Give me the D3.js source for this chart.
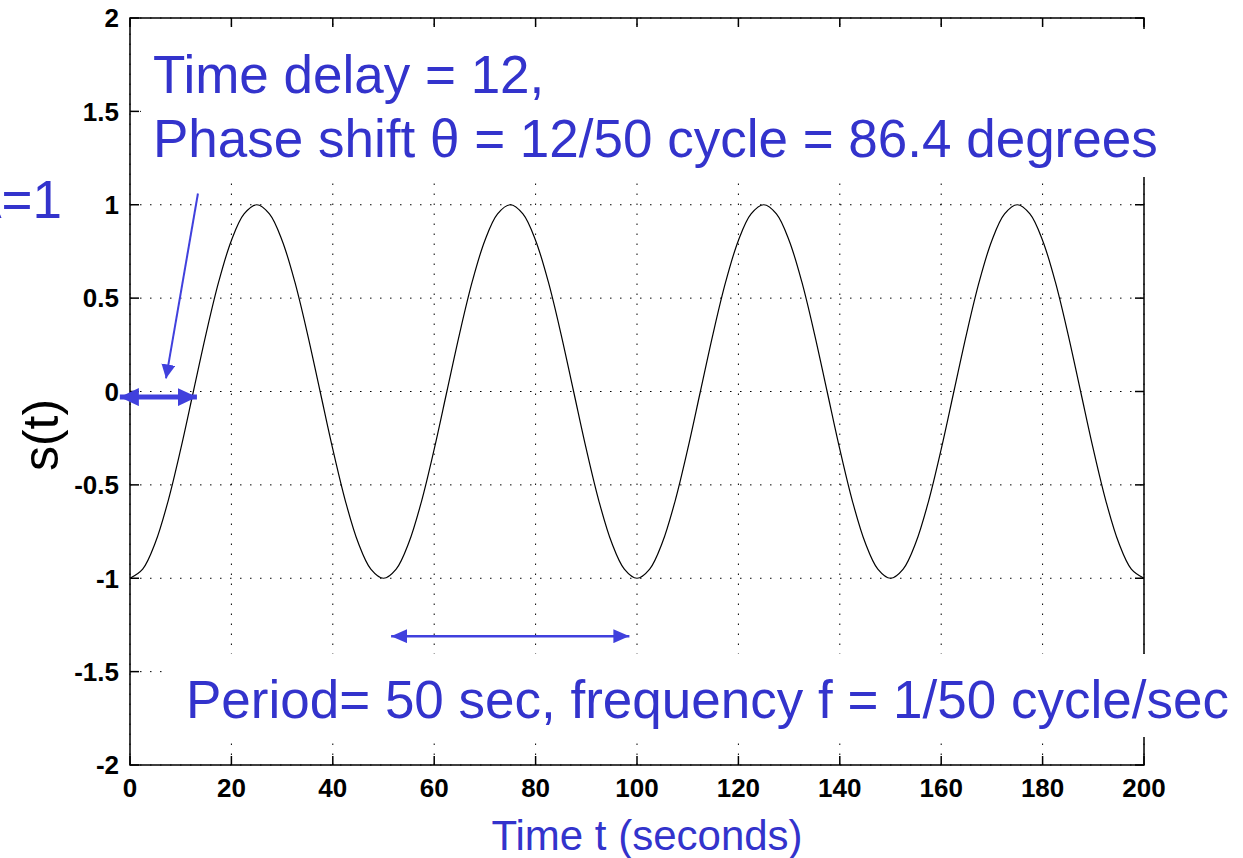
<!DOCTYPE html>
<html>
<head>
<meta charset="utf-8">
<script src="https://d3js.org/d3.v7.min.js"></script>
<style>
  body { margin: 0; background: #fff; }
  svg { display: block; }
  .tick-label { font-family: "Liberation Sans", Arial, sans-serif; font-weight: bold; font-size: 26px; fill: #000; }
  .note { font-family: "Liberation Sans", Arial, sans-serif; fill: #3333cc; }
</style>
</head>
<body>
<div id="chart"></div>
<script>
// sample times (seconds) and the signal
var times = d3.range(0, 200.1, 2.5);
var signal = [
  -1, -0.951, -0.809, -0.588, -0.309, 0, 0.309, 0.588, 0.809, 0.951,
  1, 0.951, 0.809, 0.588, 0.309, 0, -0.309, -0.588, -0.809, -0.951,
  -1, -0.951, -0.809, -0.588, -0.309, 0, 0.309, 0.588, 0.809, 0.951,
  1, 0.951, 0.809, 0.588, 0.309, 0, -0.309, -0.588, -0.809, -0.951,
  -1, -0.951, -0.809, -0.588, -0.309, 0, 0.309, 0.588, 0.809, 0.951,
  1, 0.951, 0.809, 0.588, 0.309, 0, -0.309, -0.588, -0.809, -0.951,
  -1, -0.951, -0.809, -0.588, -0.309, 0, 0.309, 0.588, 0.809, 0.951,
  1, 0.951, 0.809, 0.588, 0.309, 0, -0.309, -0.588, -0.809, -0.951,
  -1
];
var xTicks = [0, 20, 40, 60, 80, 100, 120, 140, 160, 180, 200];
var yTicks = [2, 1.5, 1, 0.5, 0, -0.5, -1, -1.5, -2];
var yTickLabels = ['2', '1.5', '1', '0.5', '0', '-0.5', '-1', '-1.5', '-2'];

// annotation arrows in data units: [x1, y1, x2, y2]
var delayPointer = [13.4, 1.06, 7.1, 0.07];
var delaySpan = [-2, -0.03, 13.2, -0.03];
var periodSpan = [51.5, -1.31, 98.5, -1.31];

var W = 1243, H = 858;
var x = d3.scaleLinear().domain([0, 200]).range([130, 1144]);
var y = d3.scaleLinear().domain([-2, 2]).range([765, 18]);

var svg = d3.select('#chart').append('svg')
  .attr('width', W)
  .attr('height', H);

var defs = svg.append('defs');
function marker(id, len, half) {
  defs.append('marker')
    .attr('id', id)
    .attr('viewBox', '0 0 ' + len + ' ' + (half * 2))
    .attr('refX', len)
    .attr('refY', half)
    .attr('markerWidth', len)
    .attr('markerHeight', half * 2)
    .attr('markerUnits', 'userSpaceOnUse')
    .attr('orient', 'auto-start-reverse')
    .append('path')
    .attr('d', 'M0,0L' + len + ',' + half + 'L0,' + (half * 2) + 'Z')
    .attr('fill', '#4040dd');
}
marker('head-small', 14, 7);
marker('head-big', 19, 9);
marker('head-mid', 16, 7);

// dotted grid
var grid = svg.append('g').attr('stroke', '#000').attr('stroke-width', 1)
  .attr('stroke-dasharray', '1.5,8.5').attr('fill', 'none');
xTicks.forEach(function(t) {
  grid.append('line').attr('x1', x(t)).attr('x2', x(t)).attr('y1', y(-2)).attr('y2', y(2));
});
yTicks.forEach(function(v) {
  grid.append('line').attr('x1', x(0)).attr('x2', x(200)).attr('y1', y(v)).attr('y2', y(v));
});

// frame and inward ticks
var frame = svg.append('g').attr('stroke', '#000').attr('stroke-width', 1.5).attr('fill', 'none');
frame.append('rect').attr('x', x(0)).attr('y', y(2)).attr('width', x(200) - x(0)).attr('height', y(-2) - y(2));
xTicks.forEach(function(t) {
  frame.append('line').attr('x1', x(t)).attr('x2', x(t)).attr('y1', y(-2)).attr('y2', y(-2) - 9);
  frame.append('line').attr('x1', x(t)).attr('x2', x(t)).attr('y1', y(2)).attr('y2', y(2) + 9);
});
yTicks.forEach(function(v) {
  frame.append('line').attr('x1', x(0)).attr('x2', x(0) + 9).attr('y1', y(v)).attr('y2', y(v));
  frame.append('line').attr('x1', x(200)).attr('x2', x(200) - 9).attr('y1', y(v)).attr('y2', y(v));
});

// tick labels
svg.append('g').selectAll('text').data(xTicks).join('text')
  .attr('class', 'tick-label')
  .attr('x', function(d) { return x(d); })
  .attr('y', 797)
  .attr('text-anchor', 'middle')
  .text(function(d) { return d; });
svg.append('g').selectAll('text').data(yTicks).join('text')
  .attr('class', 'tick-label')
  .attr('x', 119)
  .attr('y', function(d) { return y(d); })
  .attr('dy', '0.36em')
  .attr('text-anchor', 'end')
  .text(function(d, i) { return yTickLabels[i]; });

// the signal
var line = d3.line()
  .x(function(d, i) { return x(times[i]); })
  .y(function(d) { return y(d); })
  .curve(d3.curveCatmullRom);
svg.append('path')
  .datum(signal)
  .attr('fill', 'none')
  .attr('stroke', '#000')
  .attr('stroke-width', 1.2)
  .attr('d', line);

// white text boxes sitting over the plot
svg.append('rect').attr('x', 141).attr('y', 29).attr('width', W - 141).attr('height', 148).attr('fill', '#fff');
svg.append('rect').attr('x', 166).attr('y', 654).attr('width', W - 166).attr('height', 83).attr('fill', '#fff');

// annotation text
svg.append('text').attr('class', 'note').attr('x', 153).attr('y', 93).attr('font-size', 53)
  .text('Time delay = 12,');
svg.append('text').attr('class', 'note').attr('x', 153).attr('y', 157).attr('font-size', 53)
  .text('Phase shift \u03b8 = 12/50 cycle = 86.4 degrees');
svg.append('text').attr('class', 'note').attr('x', 62).attr('y', 218).attr('font-size', 53)
  .attr('text-anchor', 'end').text('A=1');
svg.append('text').attr('class', 'note').attr('x', 186).attr('y', 718).attr('font-size', 53)
  .text('Period= 50 sec, frequency f = 1/50 cycle/sec');
svg.append('text').attr('class', 'note').attr('x', 647).attr('y', 850).attr('font-size', 42)
  .attr('text-anchor', 'middle').text('Time t (seconds)');
svg.append('text')
  .attr('transform', 'translate(58,435) rotate(-90)')
  .attr('text-anchor', 'middle')
  .attr('font-family', '"Liberation Sans", Arial, sans-serif')
  .attr('font-size', 50)
  .attr('fill', '#000')
  .text('s(t)');

// arrows
svg.append('line')
  .attr('x1', x(delayPointer[0])).attr('y1', y(delayPointer[1]))
  .attr('x2', x(delayPointer[2])).attr('y2', y(delayPointer[3]))
  .attr('stroke', '#4040dd').attr('stroke-width', 2)
  .attr('marker-end', 'url(#head-small)');
svg.append('line')
  .attr('x1', x(delaySpan[0])).attr('y1', y(delaySpan[1]))
  .attr('x2', x(delaySpan[2])).attr('y2', y(delaySpan[3]))
  .attr('stroke', '#4040dd').attr('stroke-width', 5)
  .attr('marker-start', 'url(#head-big)')
  .attr('marker-end', 'url(#head-big)');
svg.append('line')
  .attr('x1', x(periodSpan[0])).attr('y1', y(periodSpan[1]))
  .attr('x2', x(periodSpan[2])).attr('y2', y(periodSpan[3]))
  .attr('stroke', '#4040dd').attr('stroke-width', 2.5)
  .attr('marker-start', 'url(#head-mid)')
  .attr('marker-end', 'url(#head-mid)');
</script>
</body>
</html>
